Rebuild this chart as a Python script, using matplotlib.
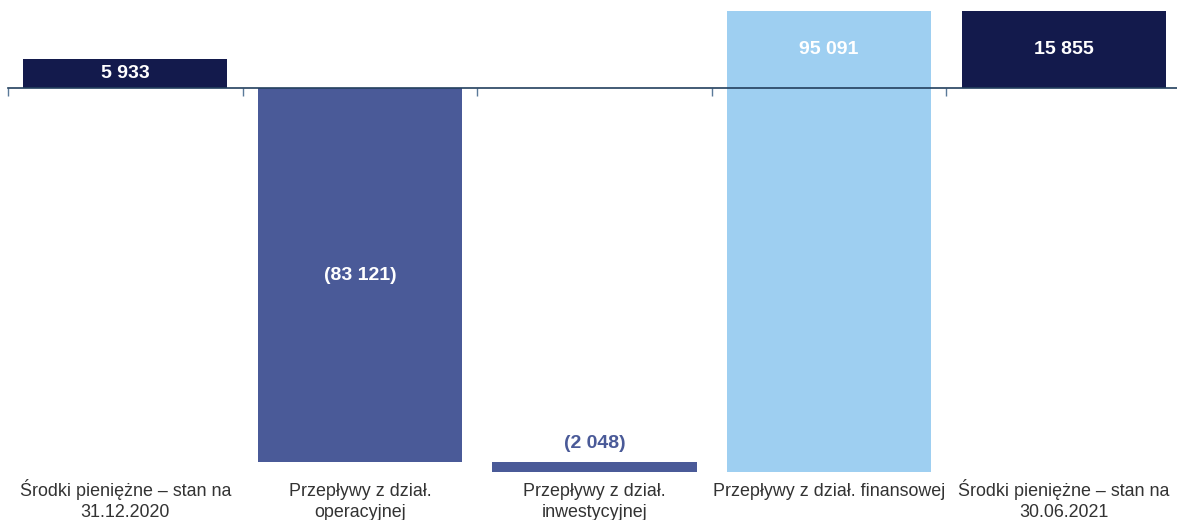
import matplotlib
matplotlib.use("Agg")
import matplotlib.pyplot as plt

plt.rcParams['font.family'] = ['Liberation Sans', 'DejaVu Sans']

categories = ["Środki pieniężne – stan na\n31.12.2020",
              "Przepływy z dział.\noperacyjnej",
              "Przepływy z dział.\ninwestycyjnej",
              "Przepływy z dział. finansowej",
              "Środki pieniężne – stan na\n30.06.2021"]
values = [5933, -83121, -2048, 95091, 15855]
kinds = ["total", "delta", "delta", "delta", "total"]
labels = ["5 933", "(83 121)", "(2 048)", "95 091", "15 855"]
colors = ["#131a4c", "#4a5a98", "#4a5a98", "#9ecff1", "#131a4c"]

W, H = 1177, 520
fig = plt.figure(figsize=(W / 100, H / 100), dpi=100)
ax = fig.add_axes([8 / W, (H - 478) / H, 1173 / W, 470 / H])

# waterfall geometry
bottoms, heights = [], []
running = 0
for v, k in zip(values, kinds):
    if k == "total":
        lo, hi = 0, v
        running = v
    else:
        start, end = running, running + v
        running = end
        if v < 0 and start > 0 > end:
            # drawn only below the axis, as in the original
            lo, hi = end, 0
        else:
            lo, hi = min(start, end), max(start, end)
    bottoms.append(lo)
    heights.append(hi - lo)

x = list(range(len(values)))
ax.bar(x, heights, bottom=bottoms, width=0.87, color=colors, zorder=2)

for i in x:
    lo, hi = bottoms[i], bottoms[i] + heights[i]
    if heights[i] < 5000:
        ax.annotate(labels[i], (i, hi), xytext=(0, 7), textcoords="offset points",
                    ha="center", va="bottom", fontsize=14, fontweight="bold",
                    color=colors[i])
    else:
        if hi > 0:
            ymid = (hi + max(lo, 0)) / 2
        else:
            ymid = (hi + lo) / 2
        ax.text(i, ymid, labels[i], ha="center", va="center", fontsize=14,
                fontweight="bold", color="white", zorder=3)

# category labels, one line at a time so every first line sits on the same baseline
line_y = [-18 / 470, -39 / 470]
for i, c in enumerate(categories):
    for j, line in enumerate(c.split("\n")):
        ax.text(i, line_y[j], line, transform=ax.get_xaxis_transform(),
                ha="center", va="baseline", fontsize=12.9, color="#333333",
                clip_on=False)

ax.set_xlim(-0.5, 4.5)
ax.set_ylim(-390 * 206.3, 80 * 206.3)
for s in ["top", "right", "left"]:
    ax.spines[s].set_visible(False)
ax.spines["bottom"].set_position(("data", 0))
ax.spines["bottom"].set_color("#23405e")
ax.spines["bottom"].set_linewidth(1.2)
ax.spines["bottom"].set_zorder(3)
ax.set_yticks([])
ax.set_xticks([i - 0.5 for i in range(len(values) + 1)])
ax.set_xticklabels([])
ax.tick_params(axis="x", direction="out", length=6, color="#5a7a99", width=1)

fig.savefig("out.png", dpi=100)
